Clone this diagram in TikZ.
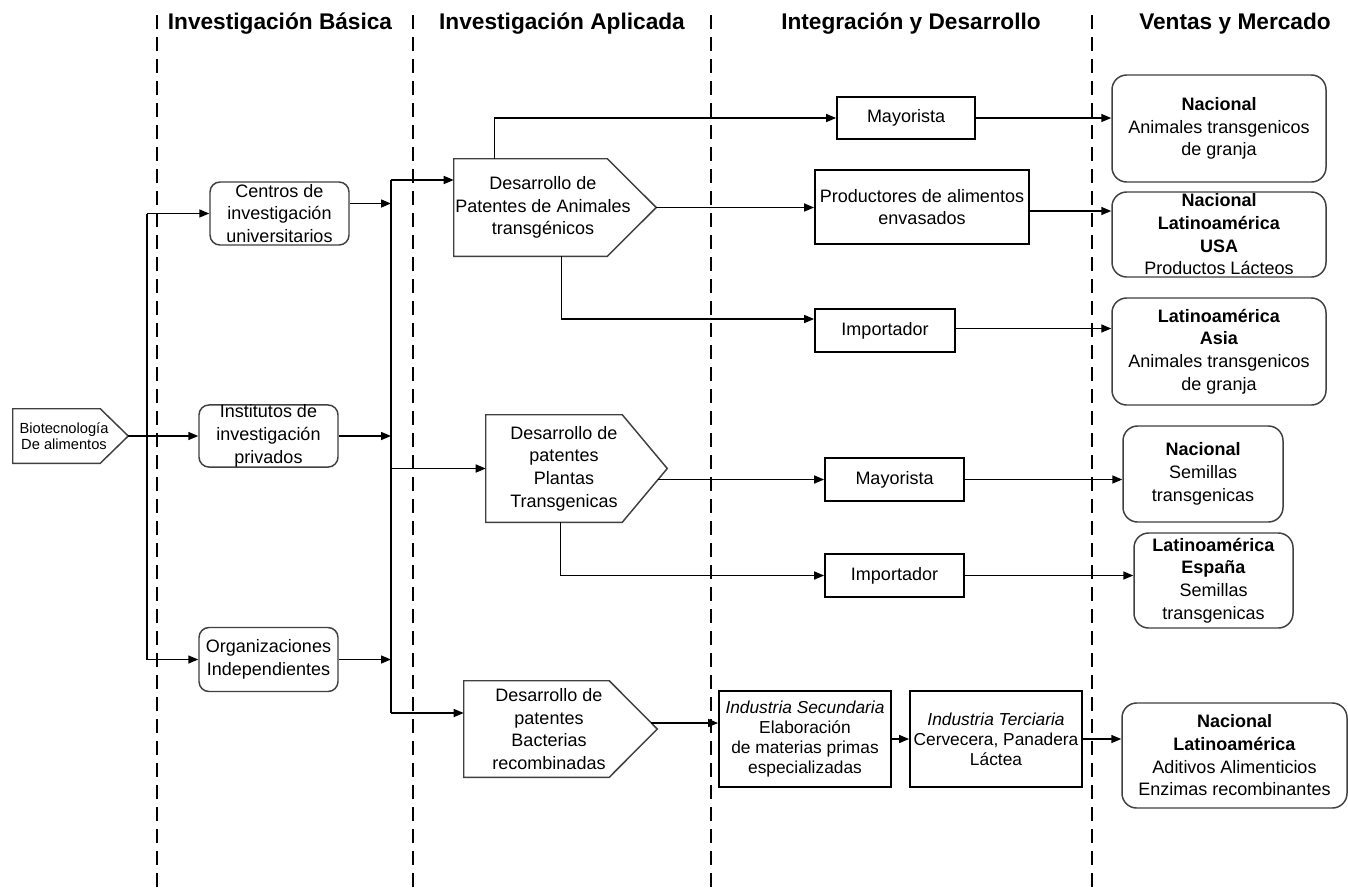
\documentclass[tikz,border=0pt]{standalone}
\usepackage{fontspec}
\setmainfont{Liberation Sans}
\usetikzlibrary{arrows.meta,calc}
\begin{document}
\begin{tikzpicture}[x=0.75pt,y=-0.75pt,
  >={Triangle[length=7.5pt,width=6pt]},
  conn/.style={line width=1.1pt,draw=black},
  bx/.style 2 args={minimum width=#1*0.75pt,minimum height=#2*0.75pt,inner sep=0pt},
  txt/.style={align=center,inner sep=0pt,font=\fontsize{13.5}{17}\selectfont},
  rbox/.style={draw=black!75,line width=1.1pt,rounded corners=7.5pt},
  rbig/.style={draw=black!75,line width=1.1pt,rounded corners=11pt},
  sbox/.style={draw=black,line width=1.3pt},
  tight/.style={font=\fontsize{13}{15}\selectfont},
  hdr/.style={font=\fontsize{17}{20}\selectfont\bfseries},
  lane/.style={line width=1.1pt,dash pattern=on 10.5pt off 6pt},
  pentline/.style={draw=black!75,line width=1.1pt,line join=miter}]
\newcommand\pentdraw[2]{\draw[pentline] (#1.north west) -- ($(#1.north east)+(-#2,0)$) -- (#1.east) -- ($(#1.south east)+(-#2,0)$) -- (#1.south west) -- cycle;}
\useasboundingbox[fill=white] (0,0) rectangle (1348,893);

% lanes
\draw[lane] (157,15) -- (157,893);
\draw[lane] (413,15) -- (413,893);
\draw[lane] (711,15) -- (711,893);
\draw[lane] (1092,15) -- (1092,893);

% headers
\node[hdr] (h1) at (280,24) {Investigación Básica};
\node[hdr] (h2) at (562,24) {Investigación Aplicada};
\node[hdr] (h3) at (911,24) {Integración y Desarrollo};
\node[hdr] (h4) at (1235,24) {Ventas y Mercado};

% origin pentagon
\node[bx={115}{54}] (bio) at (70.5,436) {};
\pentdraw{bio}{28}
\node[align=center,inner sep=0pt,font=\fontsize{11}{12.5}\selectfont] (biot) at (64,436) {Biotecnología\\De alimentos};

% basic research
\node[rbox,txt,bx={139}{63}] (centros) at (279.5,213.5) {Centros de\\investigación\\universitarios};
\node[rbox,txt,bx={139}{62}] (inst) at (268.5,436) {Institutos de\\investigación\\privados};
\node[rbox,txt,bx={139}{64}] (org) at (268.5,659.5) {Organizaciones\\Independientes};

% applied research pentagons
\node[bx={202}{97}] (p1) at (555,207.5) {};
\pentdraw{p1}{49}
\node[txt] (p1t) at (543,207.5) {Desarrollo de\\Patentes de Animales\\transgénicos};
\node[bx={181}{107}] (p2) at (576.5,468.5) {};
\pentdraw{p2}{45}
\node[txt] (p2t) at (564,468.5) {Desarrollo de\\patentes\\Plantas\\Transgenicas};
\node[bx={193}{96}] (p3) at (560.5,729) {};
\pentdraw{p3}{48}
\node[txt] (p3t) at (549,729) {Desarrollo de\\patentes\\Bacterias\\recombinadas};

% integration boxes
\node[sbox,txt,bx={138}{42}] (may1) at (906,118) {Mayorista};
\node[sbox,txt,bx={214}{74}] (prod) at (922,207) {Productores de alimentos\\envasados};
\node[sbox,txt,bx={140}{43}] (imp1) at (885,330.5) {Importador};
\node[sbox,txt,bx={139}{43}] (may2) at (894.5,479.5) {Mayorista};
\node[sbox,txt,bx={139}{43}] (imp2) at (894.5,575.5) {Importador};
\node[sbox,txt,tight,bx={172}{96}] (is) at (805,739) {\textit{Industria Secundaria}\\Elaboración\\de materias primas\\especializadas};
\node[sbox,txt,tight,bx={172}{96}] (it) at (996,739) {\textit{Industria Terciaria}\\Cervecera, Panadera\\Láctea};

% market boxes
\node[rbig,txt,bx={214}{107}] (n1) at (1219,128.5) {\textbf{Nacional}\\Animales transgenicos\\de granja};
\node[rbig,txt,bx={214}{85}] (n2) at (1219,234.5) {\textbf{Nacional}\\\textbf{Latinoamérica}\\\textbf{USA}\\Productos Lácteos};
\node[rbig,txt,bx={214}{107}] (n3) at (1219,351.5) {\textbf{Latinoamérica}\\\textbf{Asia}\\Animales transgenicos\\de granja};
\node[rbig,txt,bx={160}{96}] (s1) at (1203,474) {\textbf{Nacional}\\Semillas\\transgenicas};
\node[rbig,txt,bx={159}{95}] (s2) at (1213.5,580.5) {\textbf{Latinoamérica}\\\textbf{España}\\Semillas\\transgenicas};
\node[rbig,txt,bx={225}{105}] (fin) at (1234.5,755.5) {\textbf{Nacional}\\\textbf{Latinoamérica}\\Aditivos Alimenticios\\Enzimas recombinantes};

% left trunk
\coordinate (ta) at (147,0);
\coordinate (tb) at (391,0);
\draw[conn,->] (bio.east) -- (inst.west);
\draw[conn] (centros.west -| ta) -- (org.west -| ta);
\draw[conn,->] (centros.west -| ta) -- (centros.west);
\draw[conn,->] (org.west -| ta) -- (org.west);

% second trunk
\draw[conn,->] ($(centros.east)+(0,-10)$) -- ($(centros.east -| tb)+(0,-10)$);
\draw[conn,->] (inst.east) -- (inst.east -| tb);
\draw[conn,->] (org.east) -- (org.east -| tb);
\draw[conn] ($(p1.west -| tb)+(0,-27.5)$) -- ($(p3.west -| tb)+(0,-16)$);
\draw[conn,->] ($(p1.west -| tb)+(0,-27.5)$) -- ($(p1.west)+(0,-27.5)$);
\draw[conn,->] (p2.west -| tb) -- (p2.west);
\draw[conn,->] ($(p3.west -| tb)+(0,-16)$) -- ($(p3.west)+(0,-16)$);

% from animal patents
\draw[conn,->] ($(p1.north west)+(41,0)$) |- (may1.west);
\draw[conn,->] (p1.east) -- (p1.east -| prod.west);
\draw[conn,->] ($(p1.south west)+(108,0)$) |- ($(imp1.west)+(0,-11.5)$);
\draw[conn,->] (may1.east) -- (may1.east -| n1.west);
\draw[conn,->] ($(prod.east)+(0,4)$) -- ($(prod.east -| n2.west)+(0,4)$);
\draw[conn,->] ($(imp1.east)+(0,-2)$) -- ($(imp1.east -| n3.west)+(0,-2)$);

% from plant patents
\draw[conn,->] ($(may2.west -| p2.east)+(-9,0)$) -- (may2.west);
\draw[conn,->] ($(p2.south west)+(75,0)$) |- (imp2.west);
\draw[conn,->] (may2.east) -- (may2.east -| s1.west);
\draw[conn,->] (imp2.east) -- (imp2.east -| s2.west);

% from bacteria patents
\draw[conn,->] ($(p3.east)+(-6,-6)$) -- ($(p3.east -| is.west)+(0,-6)$);
\draw[conn,->] (is.east) -- (it.west);
\draw[conn,->] (it.east) -- (it.east -| fin.west);
\end{tikzpicture}
\end{document}
